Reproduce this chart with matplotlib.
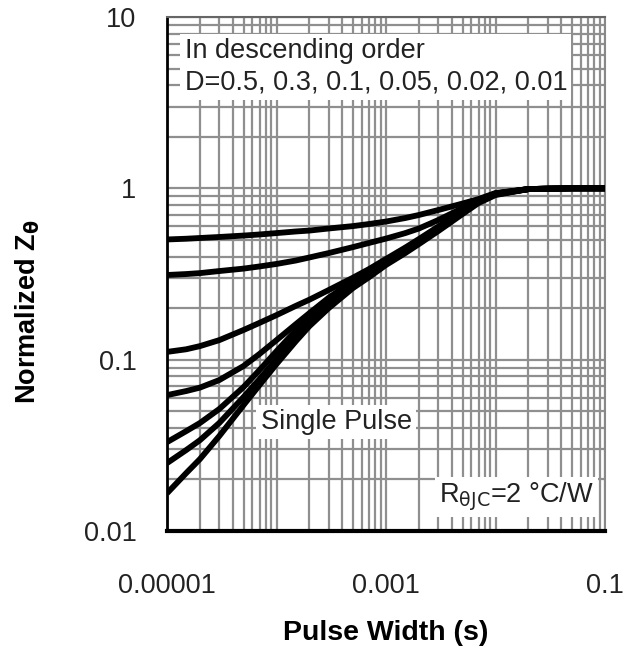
import numpy as np
import matplotlib.pyplot as plt
from matplotlib.ticker import LogLocator, NullFormatter

plt.rcParams['font.family'] = ['Liberation Sans', 'DejaVu Sans']

# pulse width (s)
pulse_width = [1e-5, 1.5e-5, 2e-5, 3e-5, 5e-5, 7e-5, 1e-4, 1.5e-4, 2e-4, 3e-4, 5e-4, 7e-4,
               1e-3, 1.5e-3, 2e-3, 3e-3, 5e-3, 7e-3, 1e-2, 2e-2, 3e-2, 5e-2, 1e-1]

# normalized Z, D = 0.5 ... single pulse
z_d05 = [0.503, 0.508, 0.513, 0.520, 0.530, 0.538, 0.548, 0.560, 0.567, 0.583, 0.602, 0.619,
         0.640, 0.671, 0.699, 0.747, 0.815, 0.866, 0.939, 0.99, 0.995, 1.0, 1.0]
z_d03 = [0.312, 0.316, 0.320, 0.329, 0.340, 0.350, 0.362, 0.379, 0.395, 0.419, 0.454, 0.480,
         0.509, 0.548, 0.583, 0.653, 0.767, 0.855, 0.933, 0.99, 0.995, 1.0, 1.0]
z_d01 = [0.111, 0.115, 0.120, 0.130, 0.149, 0.164, 0.182, 0.206, 0.224, 0.255, 0.301, 0.338,
         0.387, 0.451, 0.506, 0.598, 0.742, 0.849, 0.933, 0.99, 0.995, 1.0, 1.0]
z_d005 = [0.0621, 0.0656, 0.0687, 0.0760, 0.0918, 0.108, 0.130, 0.161, 0.187, 0.230, 0.288, 0.329,
          0.376, 0.439, 0.496, 0.586, 0.732, 0.843, 0.926, 0.99, 0.995, 1.0, 1.0]
z_d002 = [0.0330, 0.0383, 0.0427, 0.0515, 0.0692, 0.0870, 0.112, 0.148, 0.179, 0.221, 0.278, 0.320,
          0.369, 0.431, 0.489, 0.579, 0.727, 0.837, 0.926, 0.99, 0.995, 1.0, 1.0]
z_d001 = [0.0249, 0.0297, 0.0339, 0.0427, 0.0605, 0.0770, 0.101, 0.137, 0.168, 0.213, 0.271, 0.312,
          0.362, 0.425, 0.483, 0.571, 0.718, 0.832, 0.920, 0.99, 0.995, 1.0, 1.0]
z_single = [0.0166, 0.0218, 0.0263, 0.0358, 0.0543, 0.0711, 0.0943, 0.128, 0.157, 0.200, 0.262, 0.303,
            0.357, 0.419, 0.473, 0.563, 0.708, 0.821, 0.914, 0.99, 0.995, 1.0, 1.0]

x_ticks = [1e-5, 1e-3, 1e-1]
x_tick_labels = ['0.00001', '0.001', '0.1']
y_ticks = [0.01, 0.1, 1, 10]
y_tick_labels = ['0.01', '0.1', '1', '10']

fig = plt.figure(figsize=(6.34, 6.62), dpi=100)
ax = fig.add_axes([167 / 634, 131 / 662, 438 / 634, 514 / 662])

for z in [z_d05, z_d03, z_d01, z_d005, z_d002, z_d001, z_single]:
    ax.plot(pulse_width, z, color='black', lw=4.2, solid_joinstyle='round',
            solid_capstyle='butt', zorder=3)

ax.set_xscale('log')
ax.set_yscale('log')
ax.set_xlim(1e-5, 1e-1)
ax.set_ylim(0.01, 10)

ax.set_xticks(x_ticks)
ax.set_xticklabels(x_tick_labels)
ax.set_yticks(y_ticks)
ax.set_yticklabels(y_tick_labels)
ax.xaxis.set_minor_locator(LogLocator(base=10, subs=np.arange(1, 10)))
ax.yaxis.set_minor_locator(LogLocator(base=10, subs=np.arange(1, 10)))
ax.xaxis.set_minor_formatter(NullFormatter())
ax.yaxis.set_minor_formatter(NullFormatter())
ax.tick_params(which='both', length=0, labelsize=19.5, colors='#222222')
ax.tick_params(axis='x', pad=30)
ax.tick_params(axis='y', pad=22)

ax.grid(which='both', color='#8f8f8f', lw=1.6)
ax.set_axisbelow(True)

ax.spines['left'].set_linewidth(2)
ax.spines['bottom'].set_linewidth(3)
ax.spines['top'].set_color('#666666')
ax.spines['right'].set_color('#888888')
ax.spines['top'].set_linewidth(1.5)
ax.spines['right'].set_linewidth(1.5)

box = dict(facecolor='white', edgecolor='none', pad=3)
ax.text(0.040, 0.903, 'In descending order\nD=0.5, 0.3, 0.1, 0.05, 0.02, 0.01',
        transform=ax.transAxes, fontsize=19.5, ha='left', va='center',
        linespacing=1.3, color='#222222', bbox=box, zorder=4)
ax.text(0.386, 0.212, 'Single Pulse', transform=ax.transAxes, fontsize=19.5,
        ha='center', va='center', color='#222222', bbox=box, zorder=4)
ax.text(0.797, 0.066, r'R$_{\mathrm{\theta JC}}$=2 °C/W', transform=ax.transAxes,
        fontsize=19.5, ha='center', va='center', color='#222222', bbox=box, zorder=4)

fig.text(386 / 634, 1 - 633 / 662, 'Pulse Width (s)', fontsize=20.5, fontweight='bold',
         ha='center', va='center')
fig.text(28 / 634, 1 - 312 / 662, r'Normalized Z$_\mathbf{\theta}$', fontsize=19.5,
         fontweight='bold', rotation=90, ha='center', va='center')

fig.savefig('out.png', dpi=100)
